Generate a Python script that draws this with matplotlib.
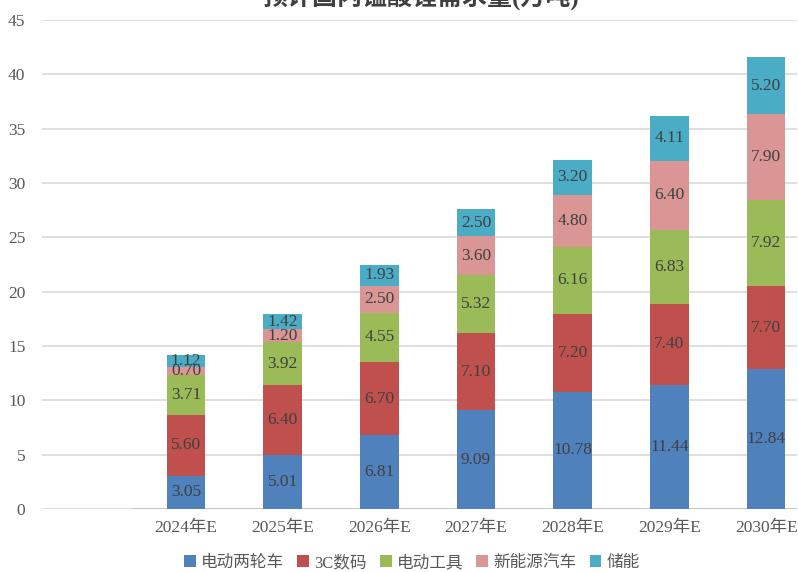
import matplotlib.pyplot as plt
from matplotlib.patches import Rectangle
import numpy as np

plt.rcParams['font.family'] = ['Liberation Serif', 'Noto Sans CJK SC']

years = ["2024年E", "2025年E", "2026年E", "2027年E", "2028年E", "2029年E", "2030年E"]
series_names = ["电动两轮车", "3C数码", "电动工具", "新能源汽车", "储能"]
two_wheeler = [3.05, 5.01, 6.81, 9.09, 10.78, 11.44, 12.84]
digital_3c = [5.60, 6.40, 6.70, 7.10, 7.20, 7.40, 7.70]
power_tools = [3.71, 3.92, 4.55, 5.32, 6.16, 6.83, 7.92]
nev = [0.70, 1.20, 2.50, 3.60, 4.80, 6.40, 7.90]
storage = [1.12, 1.42, 1.93, 2.50, 3.20, 4.11, 5.20]
colors = ["#4f81bd", "#c0504d", "#9bbb59", "#d99694", "#4bacc6"]

fig = plt.figure(figsize=(7.98, 5.72), dpi=100)
ax = fig.add_axes([42 / 798, 63 / 572, 755 / 798, 489 / 572])

x = np.arange(len(years))
bottom = np.zeros(len(years))
for name, vals, c in zip(series_names, [two_wheeler, digital_3c, power_tools, nev, storage], colors):
    vals = np.array(vals)
    ax.bar(x, vals, 0.4, bottom=bottom, color=c, label=name, zorder=3)
    for xi, b, v in zip(x, bottom, vals):
        ax.text(xi, b + v / 2, "%.2f" % v, ha='center', va='center',
                fontsize=12.5, color='#404040', zorder=4)
    bottom += vals

xlo, xhi = -1.49, 6.32
ax.set_xlim(xlo, xhi)
ax.set_ylim(0, 45)
ax.set_yticks(np.arange(0, 46, 5))
ax.set_xticks(x)
ax.set_xticklabels(years)
ax.tick_params(axis='both', length=0, labelsize=12.5, labelcolor='#595959')
ax.tick_params(axis='y', pad=12)
ax.tick_params(axis='x', pad=8)
ax.yaxis.grid(True, color='#d9d9d9', linewidth=1.2, zorder=0)
for s in ax.spines.values():
    s.set_visible(False)

# blank patch in lower-left, as in the source picture
ax.add_patch(Rectangle((0.021, -0.015), 0.098, 0.31, transform=ax.transAxes,
                       facecolor='white', edgecolor='none', zorder=1, clip_on=False))
ax.axhline(0, xmin=(-0.56 - xlo) / (xhi - xlo), xmax=1, color='#bfbfbf', linewidth=1.2, zorder=2)

# title is cut off at the top edge in the source
fig.text(0.527, 1 + 3 / 572, "预计国内锰酸锂需求量(万吨)", ha='center', va='center',
         fontsize=18, fontweight='bold', color='#404040')

ax.legend(loc='center', bbox_to_anchor=(0.49, (572 - 563 - 63) / 489),
          ncol=5, frameon=False, fontsize=12, handlelength=0.7, handleheight=0.7,
          handletextpad=0.3, columnspacing=0.8, labelcolor='#595959')

plt.savefig("out.png", dpi=100)
